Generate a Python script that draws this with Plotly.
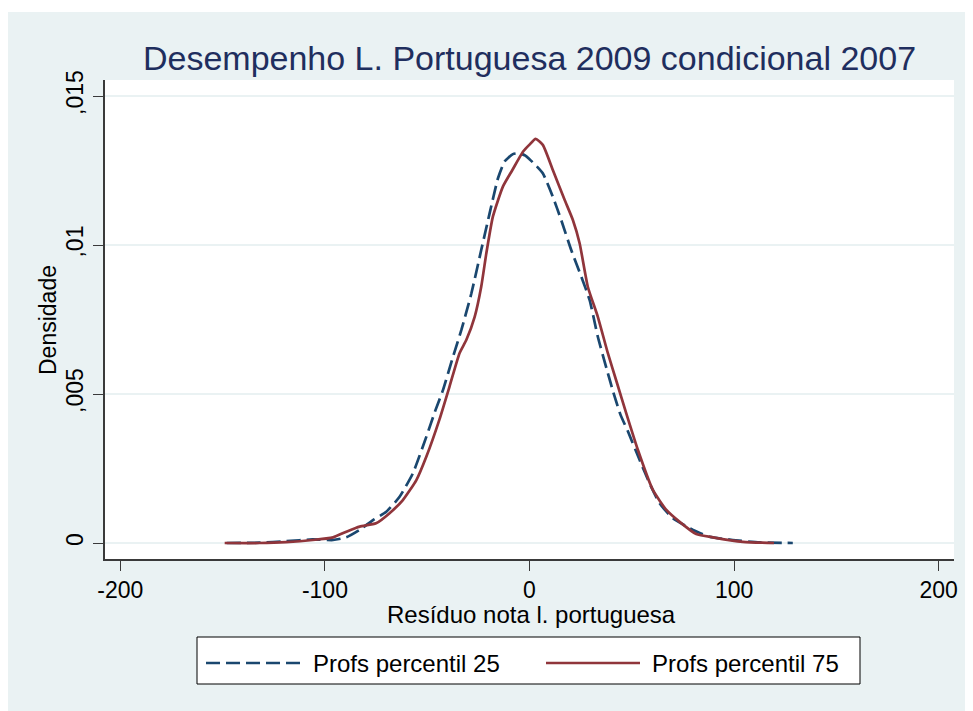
import plotly.graph_objects as go

# ---------------- data ----------------
series_names = ["Profs percentil 25", "Profs percentil 75"]

p25_x = [-148, -132, -119, -106, -96, -89.5, -83, -76.5, -70, -63.5, -57, -50.4, -46,
         -42.3, -37.4, -33.3, -28.4, -23.6, -19.5, -15.4, -12.2, -8.1, -5, -2, 0, 3,
         6.5, 11.4, 15.5, 20.4, 25.3, 29.4, 33.4, 38.3, 41, 44.5, 48.1, 53.8, 58.7,
         63.6, 70.1, 79.9, 88, 99.4, 112.5, 128.7]
p25_y = [0.0, 0.00001, 0.00006, 0.00012, 0.00010, 0.00019, 0.00044, 0.00077, 0.00105,
         0.00155, 0.00234, 0.00357, 0.00445, 0.00513, 0.00625, 0.00715, 0.00838,
         0.00983, 0.01106, 0.01224, 0.01280, 0.01305, 0.01308, 0.01300, 0.01288,
         0.01268, 0.01241, 0.01162, 0.01084, 0.00983, 0.00894, 0.00815, 0.00692,
         0.00570, 0.00505, 0.00430, 0.00375, 0.00279, 0.00200, 0.00133, 0.00083,
         0.00044, 0.00021, 0.00010, 0.00002, 0.0]

p75_x = [-149, -132, -119, -106, -96, -89.5, -83, -75, -68.4, -61.9, -55.3, -50.4, -44,
         -39.1, -34.2, -30.9, -26.8, -23.6, -21.1, -17.9, -13.0, -8.5, -3.2, 0, 3.0,
         6.5, 11.4, 17.2, 21.2, 24.5, 28.5, 33.4, 38.3, 42.8, 47.3, 53.0, 60.3, 66.9,
         73.4, 81.5, 89.6, 104.3, 119.5]
p75_y = [0.0, 0.0, 0.00003, 0.00010, 0.00019, 0.00038, 0.00055, 0.00066, 0.00100,
         0.00144, 0.00211, 0.00290, 0.00415, 0.00525, 0.00637, 0.00681, 0.00759,
         0.00860, 0.00972, 0.01095, 0.01196, 0.01250, 0.01313, 0.01337, 0.01356,
         0.01336, 0.01252, 0.01151, 0.01084, 0.01006, 0.00860, 0.00759, 0.00637,
         0.00536, 0.00435, 0.00312, 0.00178, 0.00111, 0.00071, 0.00030, 0.00019,
         0.00004, 0.0]

x_ticks = [-200, -100, 0, 100, 200]
x_tick_labels = ["-200", "-100", "0", "100", "200"]
y_ticks = [0, 0.005, 0.01, 0.015]
y_tick_labels = ["0", ",005", ",01", ",015"]

title_text = "Desempenho L. Portuguesa 2009 condicional 2007"
x_title = "Resíduo nota l. portuguesa"
y_title = "Densidade"

# ---------------- style ----------------
W, H = 973, 711
OFF = 8                      # page body margin (screen px -> figure px)
L, R, T, B = 97, 27, 72, 160
PW, PH = W - L - R, H - T - B
BG = "#EAF2F3"
NAVY = "#1A476F"
MAROON = "#90353B"
FONT = "Liberation Sans, Arial, sans-serif"
AXC = "#3a3a3a"


def fx(px):
    """screen x pixel -> paper x"""
    return (px - OFF - L) / PW


def fy(py):
    """screen y pixel -> paper y"""
    return (H - B - (py - OFF)) / PH


fig = go.Figure()
fig.add_trace(go.Scatter(x=p25_x, y=p25_y, mode="lines", name=series_names[0],
                         line=dict(color=NAVY, width=2.7, dash="14px,6px",
                                   shape="spline", smoothing=0.5)))
fig.add_trace(go.Scatter(x=p75_x, y=p75_y, mode="lines", name=series_names[1],
                         line=dict(color=MAROON, width=2.7,
                                   shape="spline", smoothing=0.5)))

shapes = [
    # graph region background
    dict(type="rect", xref="paper", yref="paper", x0=fx(8), x1=fx(968), y0=fy(725),
         y1=fy(12), fillcolor=BG, line=dict(width=0), layer="below"),
    # plot region
    dict(type="rect", xref="paper", yref="paper", x0=0, x1=1, y0=0, y1=1,
         fillcolor="white", line=dict(width=0), layer="below"),
    # legend box
    dict(type="rect", xref="paper", yref="paper", x0=fx(197), x1=fx(860), y0=fy(684),
         y1=fy(637), fillcolor="white", line=dict(color="black", width=1)),
    dict(type="line", xref="paper", yref="paper", x0=fx(206), x1=fx(301), y0=fy(663),
         y1=fy(663), line=dict(color=NAVY, width=2.7, dash="14px,6px")),
    dict(type="line", xref="paper", yref="paper", x0=fx(546), x1=fx(640), y0=fy(663),
         y1=fy(663), line=dict(color=MAROON, width=2.7)),
]

annotations = [
    dict(text=series_names[0], xref="paper", yref="paper", x=fx(311), y=fy(663),
         xanchor="left", yanchor="middle", showarrow=False,
         font=dict(family=FONT, size=24, color="black")),
    dict(text=series_names[1], xref="paper", yref="paper", x=fx(650), y=fy(663),
         xanchor="left", yanchor="middle", showarrow=False,
         font=dict(family=FONT, size=24, color="black")),
    # axis titles
    dict(text=y_title, xref="paper", yref="paper", x=fx(48), y=fy(320),
         xanchor="center", yanchor="middle", textangle=-90, showarrow=False,
         font=dict(family=FONT, size=23, color="black")),
    dict(text=x_title, xref="paper", yref="paper", x=fx(531), y=fy(614),
         xanchor="center", yanchor="middle", showarrow=False,
         font=dict(family=FONT, size=24, color="black")),
]

fig.update_layout(
    width=W, height=H,
    margin=dict(l=L, r=R, t=T, b=B, pad=0),
    paper_bgcolor="white", plot_bgcolor="white",
    showlegend=False,
    font=dict(family=FONT, size=22, color="black"),
    title=dict(text=title_text, xref="paper", x=0.5, xanchor="center",
               yref="container", y=1 - 50 / H, yanchor="middle",
               font=dict(family=FONT, size=34, color="#1F2E5E")),
    shapes=shapes, annotations=annotations,
)

fig.update_xaxes(range=[-207.5, 207.5], tickvals=x_ticks, ticktext=x_tick_labels,
                 showgrid=False, zeroline=False, showline=True, linecolor=AXC,
                 linewidth=1.5, ticks="outside", ticklen=10, tickwidth=1.3,
                 tickcolor=AXC, tickfont=dict(size=23, color="black"))
fig.update_yaxes(range=[-0.000537, 0.015537], tickvals=y_ticks, ticktext=y_tick_labels,
                 showgrid=True, gridcolor=BG, gridwidth=2, zeroline=False,
                 showline=True, linecolor=AXC, linewidth=1.5, ticks="outside",
                 ticklen=10, tickwidth=1.3, tickcolor=AXC, tickangle=-90,
                 ticklabelstandoff=1,
                 tickfont=dict(size=23, color="black"))

fig.write_html("out.html")
